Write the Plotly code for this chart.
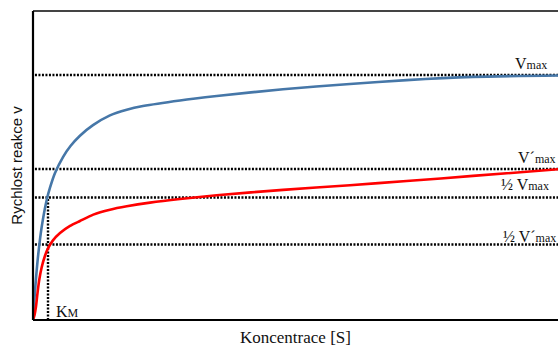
import plotly.graph_objects as go

# Concentration axis in units of K_M, velocity in units of Vmax
conc_blue = [0, 0.1, 0.2, 0.353, 0.58, 0.913, 1.133, 1.467, 2.0, 2.5, 3.13, 4.0, 5.13, 6.25, 7.33, 9.8, 12.25, 16.67, 21.13, 24.91, 29.33, 35.0]
v_blue = [0, 0.09, 0.17, 0.27, 0.38, 0.49, 0.54, 0.60, 0.665, 0.71, 0.752, 0.795, 0.835, 0.858, 0.873, 0.896, 0.914, 0.942, 0.963, 0.979, 0.992, 0.998]

conc_red = [0, 0.1, 0.2, 0.3, 0.42, 0.58, 0.8, 1.0, 1.33, 1.8, 2.47, 3.13, 4.02, 5.13, 6.25, 7.8, 9.8, 12.25, 16.67, 21.13, 24.91, 29.33, 35.0]
v_red = [0, 0.02, 0.055, 0.11, 0.165, 0.215, 0.262, 0.292, 0.325, 0.355, 0.384, 0.404, 0.43, 0.45, 0.464, 0.479, 0.494, 0.509, 0.531, 0.55, 0.567, 0.588, 0.615]

ref_levels = [1.0, 0.616, 0.5, 0.308]
ref_labels = [
    "V<span style='font-size:12px'>max</span>",
    "V´<span style='font-size:12px'>max</span>",
    "½ V<span style='font-size:12px'>max</span>",
    "½ V´<span style='font-size:12px'>max</span>",
]
label_x = [34.4, 35.0, 34.5, 35.0]
label_y = [1.045, 0.663, 0.555, 0.340]
km = 1.0

X_MAX = 35.0
Y_MAX = 1.261

fig = go.Figure()
fig.add_trace(go.Scatter(x=conc_blue, y=v_blue, mode="lines",
                         line=dict(color="#4677A8", width=2.6, shape="spline", smoothing=0.7),
                         hoverinfo="skip"))
fig.add_trace(go.Scatter(x=conc_red, y=v_red, mode="lines",
                         line=dict(color="#FF0000", width=2.6, shape="spline", smoothing=0.7),
                         hoverinfo="skip"))

dot = dict(color="black", width=2.4, dash="2px,1.5px")
shapes = []
for lv in ref_levels:
    shapes.append(dict(type="line", xref="x", yref="y", x0=0.13, x1=X_MAX, y0=lv, y1=lv,
                       line=dot, layer="below"))
shapes.append(dict(type="line", xref="x", yref="y", x0=km, x1=km, y0=0, y1=0.5,
                   line=dot, layer="below"))
# frame
shapes.append(dict(type="line", xref="paper", yref="paper", x0=0, x1=1, y0=1, y1=1,
                   line=dict(color="#444444", width=1.8)))
shapes.append(dict(type="line", xref="paper", yref="paper", x0=0, x1=0, y0=0, y1=1,
                   line=dict(color="black", width=2.2)))
shapes.append(dict(type="line", xref="paper", yref="paper", x0=0, x1=1, y0=0, y1=0,
                   line=dict(color="black", width=2.2)))

serif = "Liberation Serif"
annotations = []
for t, xx, yy in zip(ref_labels, label_x, label_y):
    annotations.append(dict(text=t, x=xx, y=yy, xref="x", yref="y", xanchor="right", yanchor="middle",
                            showarrow=False, font=dict(family=serif, size=16, color="#111")))
annotations.append(dict(text="K<span style='font-size:12px'>M</span>", x=1.4, y=0.036, xref="x", yref="y",
                        xanchor="left", yanchor="middle", showarrow=False,
                        font=dict(family=serif, size=16, color="#111")))
annotations.append(dict(text="Koncentrace [S]", x=0.5, y=-0.058, xref="paper", yref="paper",
                        xanchor="center", yanchor="middle", showarrow=False,
                        font=dict(family=serif, size=17, color="#111")))
annotations.append(dict(text="Rychlost reakce v", x=-0.032, y=0.5, xref="paper", yref="paper",
                        xanchor="center", yanchor="middle", textangle=-90, showarrow=False,
                        font=dict(family="Liberation Sans", size=15, color="#111")))

fig.update_layout(
    width=558, height=349,
    margin=dict(l=33, r=0, t=11, b=29),
    paper_bgcolor="white", plot_bgcolor="white",
    showlegend=False,
    xaxis=dict(range=[0, X_MAX], visible=False, fixedrange=True),
    yaxis=dict(range=[0, Y_MAX], visible=False, fixedrange=True),
    shapes=shapes, annotations=annotations,
)

fig.write_html("out.html")
